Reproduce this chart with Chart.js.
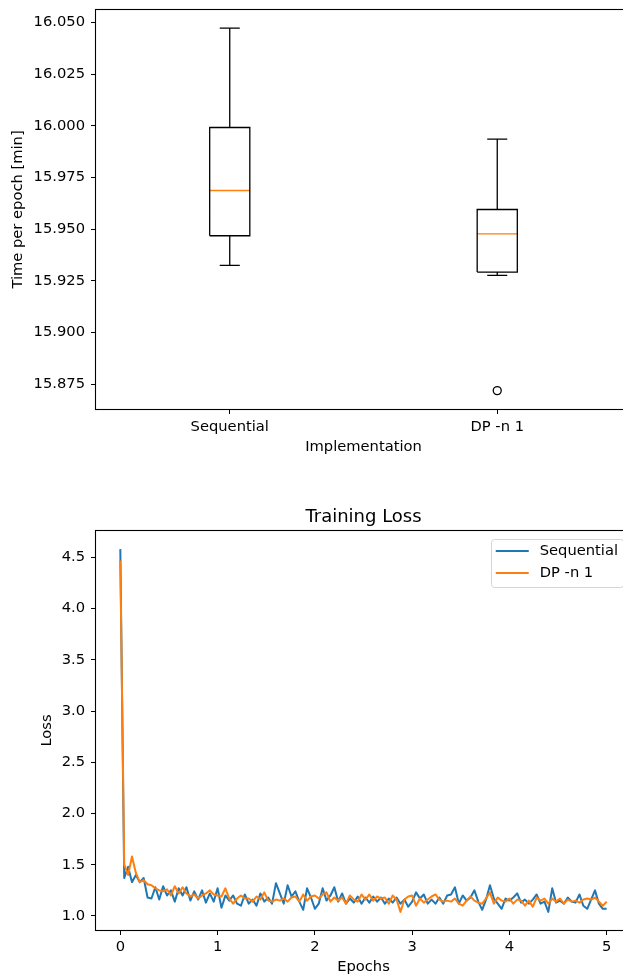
<!DOCTYPE html>
<html>
<head>
<meta charset="utf-8">
<script src="https://cdn.jsdelivr.net/npm/chart.js@4.4.1/dist/chart.umd.min.js"></script>
<style>
  html, body { margin: 0; padding: 0; background: #fff; }
  body { width: 623px; height: 976px; overflow: hidden; position: relative; }
  canvas { position: absolute; left: 0; }
  #boxChart { top: 0; }
  #lossChart { top: 490px; }
</style>
</head>
<body>
<canvas id="boxChart" width="660" height="460"></canvas>
<canvas id="lossChart" width="660" height="486"></canvas>
<script>
// --- time per epoch (box plot) ---
const categories = ["Sequential", "DP -n 1"];
const whiskerLow = [15.9324, 15.9276];
const q1 = [15.9468, 15.9292];
const median = [15.9687, 15.9477];
const q3 = [15.9992, 15.9595];
const whiskerHigh = [16.0473, 15.9936];
const outliers = [[], [15.8718]];
const timeTicks = [15.875, 15.9, 15.925, 15.95, 15.975, 16.0, 16.025, 16.05];

// --- training loss, 25 samples per epoch ---
const STEPS_PER_EPOCH = 25;
const seqLoss = [
  4.58, 1.37, 1.48, 1.33, 1.40, 1.33, 1.37, 1.18, 1.17, 1.28,
  1.16, 1.29, 1.20, 1.25, 1.14, 1.27, 1.20, 1.28, 1.15, 1.24,
  1.16, 1.25, 1.13, 1.22, 1.14, 1.27, 1.08, 1.20, 1.15, 1.20,
  1.12, 1.10, 1.21, 1.12, 1.16, 1.10, 1.22, 1.14, 1.18, 1.12,
  1.32, 1.22, 1.12, 1.30, 1.19, 1.24, 1.14, 1.06, 1.27, 1.18,
  1.07, 1.12, 1.27, 1.15, 1.20, 1.28, 1.14, 1.22, 1.12, 1.17,
  1.13, 1.19, 1.12, 1.18, 1.13, 1.19, 1.14, 1.18, 1.12, 1.17,
  1.13, 1.18, 1.12, 1.16, 1.09, 1.14, 1.23, 1.17, 1.21, 1.12,
  1.16, 1.12, 1.18, 1.12, 1.20, 1.21, 1.28, 1.12, 1.20, 1.15,
  1.18, 1.25, 1.14, 1.06, 1.16, 1.30, 1.17, 1.12, 1.07, 1.17,
  1.15, 1.18, 1.22, 1.13, 1.16, 1.12, 1.16, 1.21, 1.12, 1.14,
  1.04, 1.27, 1.13, 1.15, 1.12, 1.18, 1.14, 1.13, 1.21, 1.10,
  1.07, 1.16, 1.25, 1.12, 1.07, 1.07
];
const dpLoss = [
  4.47, 1.50, 1.40, 1.58, 1.42, 1.33, 1.35, 1.31, 1.30, 1.27,
  1.25, 1.24, 1.26, 1.20, 1.29, 1.22, 1.28, 1.22, 1.19, 1.21,
  1.17, 1.20, 1.22, 1.25, 1.21, 1.20, 1.19, 1.27, 1.17, 1.12,
  1.17, 1.20, 1.17, 1.17, 1.14, 1.19, 1.16, 1.23, 1.15, 1.14,
  1.16, 1.15, 1.17, 1.14, 1.18, 1.19, 1.14, 1.21, 1.15, 1.19,
  1.20, 1.17, 1.21, 1.23, 1.14, 1.18, 1.15, 1.18, 1.12, 1.20,
  1.16, 1.14, 1.21, 1.16, 1.21, 1.15, 1.19, 1.17, 1.18, 1.12,
  1.20, 1.16, 1.04, 1.16, 1.19, 1.20, 1.10, 1.17, 1.13, 1.16,
  1.19, 1.21, 1.16, 1.14, 1.15, 1.14, 1.17, 1.12, 1.10, 1.15,
  1.19, 1.15, 1.13, 1.12, 1.17, 1.23, 1.12, 1.18, 1.15, 1.14,
  1.17, 1.12, 1.16, 1.15, 1.10, 1.15, 1.09, 1.18, 1.15, 1.17,
  1.12, 1.17, 1.14, 1.17, 1.12, 1.16, 1.14, 1.15, 1.13, 1.16,
  1.17, 1.16, 1.18, 1.14, 1.10, 1.14
];
const epochTicks = [0, 1, 2, 3, 4, 5];
const lossTicks = [1.0, 1.5, 2.0, 2.5, 3.0, 3.5, 4.0, 4.5];

const BLUE = "#1f77b4";
const ORANGE = "#ff7f0e";
const FONT_SIZE = 14.7;

Chart.defaults.font.family = "'DejaVu Sans', sans-serif";
Chart.defaults.font.size = FONT_SIZE;
Chart.defaults.color = "#000";

// black frame around the plot area (matplotlib spines)
const framePlugin = {
  id: "frame",
  afterDatasetsDraw(chart) {
    const { ctx, chartArea: a } = chart;
    ctx.save();
    ctx.strokeStyle = "#000";
    ctx.lineWidth = 1.1;
    ctx.strokeRect(a.left - 0.5, a.top - 0.5, a.width + 1, a.height + 1);
    ctx.restore();
  }
};

// matplotlib-like legend in upper right corner of the plot area
const cornerLegend = {
  id: "cornerLegend",
  afterDatasetsDraw(chart) {
    const { ctx, chartArea: a } = chart;
    const sets = chart.data.datasets;
    ctx.save();
    ctx.font = FONT_SIZE + "px 'DejaVu Sans', sans-serif";
    const textW = Math.max(...sets.map(d => ctx.measureText(d.label).width));
    const w = 5 + 33 + 11 + textW + 5, h = 48;
    const x0 = a.right - 8 - w, y0 = a.top + 8;
    ctx.beginPath();
    ctx.roundRect(Math.round(x0) + 0.5, Math.round(y0) + 0.5, w, h, 3);
    ctx.fillStyle = "rgba(255,255,255,0.8)";
    ctx.fill();
    ctx.strokeStyle = "#d5d5d5";
    ctx.lineWidth = 1;
    ctx.stroke();
    sets.forEach((d, i) => {
      const y = y0 + 12 + i * 22;
      ctx.strokeStyle = d.borderColor;
      ctx.lineWidth = 2;
      ctx.beginPath();
      ctx.moveTo(x0 + 5, y);
      ctx.lineTo(x0 + 38, y);
      ctx.stroke();
      ctx.fillStyle = "#000";
      ctx.textBaseline = "middle";
      ctx.fillText(d.label, x0 + 49, y);
    });
    ctx.restore();
  }
};

// fixed scale sizes, no label overhang padding
const fixSize = (prop, size) => s => {
  s[prop] = size;
  s.paddingTop = s.paddingBottom = s.paddingLeft = s.paddingRight = 0;
};

// build the box plot outlines from the stats
const BOX_HALF = 0.075, CAP_HALF = 0.0375;
const gap = x => ({ x: x, y: null });
const boxPts = [], whiskerPts = [], medianPts = [], outlierPts = [];
categories.forEach((c, i) => {
  const x = i + 1;
  boxPts.push(
    { x: x - BOX_HALF, y: q1[i] }, { x: x + BOX_HALF, y: q1[i] },
    { x: x + BOX_HALF, y: q3[i] }, { x: x - BOX_HALF, y: q3[i] },
    { x: x - BOX_HALF, y: q1[i] }, gap(x)
  );
  whiskerPts.push(
    { x: x, y: q1[i] }, { x: x, y: whiskerLow[i] }, gap(x),
    { x: x - CAP_HALF, y: whiskerLow[i] }, { x: x + CAP_HALF, y: whiskerLow[i] }, gap(x),
    { x: x, y: q3[i] }, { x: x, y: whiskerHigh[i] }, gap(x),
    { x: x - CAP_HALF, y: whiskerHigh[i] }, { x: x + CAP_HALF, y: whiskerHigh[i] }, gap(x)
  );
  medianPts.push({ x: x - BOX_HALF, y: median[i] }, { x: x + BOX_HALF, y: median[i] }, gap(x));
  outliers[i].forEach(v => outlierPts.push({ x: x, y: v }));
});

const tickGrid = { drawOnChartArea: false, tickLength: 5, tickColor: "#000", tickWidth: 1 };

new Chart(document.getElementById("boxChart"), {
  type: "scatter",
  data: {
    datasets: [
      { label: "box", data: boxPts, showLine: true, borderColor: "#000", borderWidth: 1.3,
        pointRadius: 0, borderJoinStyle: "miter" },
      { label: "whiskers", data: whiskerPts, showLine: true, borderColor: "#000", borderWidth: 1.3,
        pointRadius: 0, borderCapStyle: "butt" },
      { label: "median", data: medianPts, showLine: true, borderColor: ORANGE, borderWidth: 1.3,
        pointRadius: 0 },
      { label: "fliers", data: outlierPts, showLine: false, pointRadius: 4, pointBorderWidth: 1.3,
        pointBorderColor: "#000", pointBackgroundColor: "rgba(0,0,0,0)" }
    ]
  },
  options: {
    responsive: false,
    animation: false,
    events: [],
    layout: { padding: { top: 10, right: 29, left: 0, bottom: 0 } },
    plugins: { legend: { display: false }, tooltip: { enabled: false } },
    scales: {
      x: {
        type: "linear", min: 0.5, max: 2.5,
        afterFit: fixSize("height", 51),
        afterBuildTicks: s => { s.ticks = categories.map((_, i) => ({ value: i + 1 })); },
        ticks: { callback: v => categories[v - 1], autoSkip: false, maxRotation: 0, padding: 4.2 },
        grid: tickGrid,
        border: { display: false },
        title: { display: true, text: "Implementation", padding: { top: 0, bottom: 4.2 } }
      },
      y: {
        min: 15.8629, max: 16.0561,
        afterFit: fixSize("width", 96),
        afterBuildTicks: s => { s.ticks = timeTicks.map(v => ({ value: v })); },
        ticks: { callback: v => v.toFixed(3), autoSkip: false, padding: 6 },
        grid: tickGrid,
        border: { display: false },
        title: { display: true, text: "Time per epoch [min]", padding: { top: 9.2, bottom: 0 } }
      }
    }
  },
  plugins: [framePlugin]
});

const epochs = seqLoss.map((_, i) => i / STEPS_PER_EPOCH);

new Chart(document.getElementById("lossChart"), {
  type: "line",
  data: {
    datasets: [
      { label: "Sequential", data: seqLoss.map((v, i) => ({ x: epochs[i], y: v })),
        borderColor: BLUE, backgroundColor: BLUE, borderWidth: 2, pointRadius: 0,
        tension: 0, borderJoinStyle: "round", order: 2 },
      { label: "DP -n 1", data: dpLoss.map((v, i) => ({ x: epochs[i], y: v })),
        borderColor: ORANGE, backgroundColor: ORANGE, borderWidth: 2, pointRadius: 0,
        tension: 0, borderJoinStyle: "round", order: 1 }
    ]
  },
  options: {
    responsive: false,
    animation: false,
    events: [],
    layout: { padding: { top: 0, right: 29, left: 0, bottom: 0 } },
    plugins: {
      legend: { display: false },
      tooltip: { enabled: false },
      title: {
        display: true, text: "Training Loss", fullSize: false, color: "#000",
        font: { size: 18, weight: "normal" }, padding: { top: 16.2, bottom: 3.2 }
      }
    },
    scales: {
      x: {
        type: "linear", min: -0.25, max: 5.25,
        afterFit: fixSize("height", 46),
        afterBuildTicks: s => { s.ticks = epochTicks.map(v => ({ value: v })); },
        ticks: { callback: v => String(v), autoSkip: false, maxRotation: 0, padding: 3 },
        grid: tickGrid,
        border: { display: false },
        title: { display: true, text: "Epochs", padding: { top: 0, bottom: 0.5 } }
      },
      y: {
        min: 0.863, max: 4.757,
        afterFit: fixSize("width", 96),
        afterBuildTicks: s => { s.ticks = lossTicks.map(v => ({ value: v })); },
        ticks: { callback: v => v.toFixed(1), autoSkip: false, padding: 6 },
        grid: tickGrid,
        border: { display: false },
        title: { display: true, text: "Loss", padding: { top: 37.9, bottom: 0 } }
      }
    }
  },
  plugins: [framePlugin, cornerLegend]
});
</script>
</body>
</html>
